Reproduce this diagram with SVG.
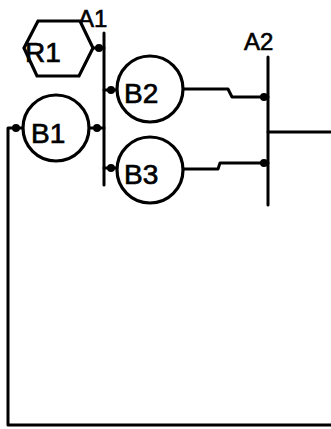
<svg xmlns="http://www.w3.org/2000/svg" width="331" height="429" viewBox="0 0 331 429">
<style>
.ln{fill:none;stroke:#000;stroke-width:3;stroke-linejoin:round;stroke-linecap:round}
.sh{fill:#fff;stroke:#000;stroke-width:3.2}
.dot{fill:#000}
.lbl{font-family:"Liberation Sans",Arial,sans-serif;font-size:28px;fill:#000;stroke:#000;stroke-width:0.7}
.bus{font-family:"Liberation Sans",Arial,sans-serif;font-size:24px;fill:#000;stroke:#000;stroke-width:0.6}
</style>
<rect width="331" height="429" fill="#fff"/>
<g id="connectors">
<polyline class="ln" points="93,48 104,48"/>
<polyline class="ln" points="89,128 104,128"/>
<polyline class="ln" points="23,128 8,128 8,425 331,425"/>
<polyline class="ln" points="104,90 117,90"/>
<polyline class="ln" points="183,89 228,89 232,97 268,97"/>
<polyline class="ln" points="104,168 117,168"/>
<polyline class="ln" points="183,169 218,169 220,163 268,163"/>
<polyline class="ln" points="268,132 331,132"/>
<circle class="dot" cx="99" cy="48" r="4"/>
<circle class="dot" cx="97" cy="128" r="4"/>
<circle class="dot" cx="16" cy="128" r="4"/>
<circle class="dot" cx="111" cy="90" r="4"/>
<circle class="dot" cx="111" cy="168" r="4"/>
<circle class="dot" cx="264" cy="97" r="4"/>
<circle class="dot" cx="264" cy="163" r="4"/>
</g>
<g id="A1">
<line class="ln" x1="104" y1="33" x2="104" y2="185" stroke-width="3.2"/>
<text class="bus" x="78" y="27">A1</text>
</g>
<g id="A2">
<line class="ln" x1="268" y1="57" x2="268" y2="205" stroke-width="3.2"/>
<text class="bus" x="244" y="50">A2</text>
</g>
<g id="R1">
<polygon class="sh" points="24,48 38,21 80,21 93,48 79,76 37,76"/>
<text class="lbl" x="25" y="62">R1</text>
</g>
<g id="B1">
<circle class="sh" cx="56" cy="128" r="33"/>
<text class="lbl" x="31" y="143">B1</text>
</g>
<g id="B2">
<circle class="sh" cx="150" cy="89" r="33"/>
<text class="lbl" x="124" y="103">B2</text>
</g>
<g id="B3">
<circle class="sh" cx="150" cy="170" r="33"/>
<text class="lbl" x="124" y="184">B3</text>
</g>
</svg>
